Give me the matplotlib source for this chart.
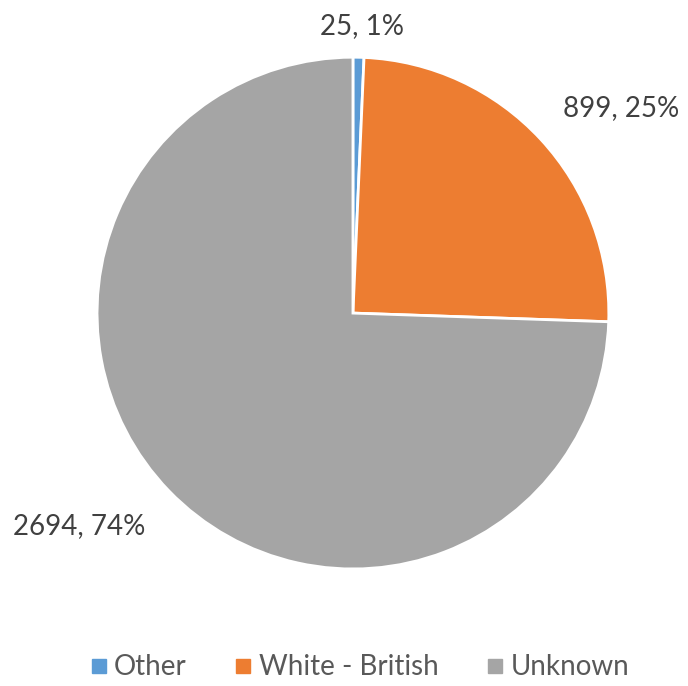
import numpy as np
import matplotlib
matplotlib.use("Agg")
import matplotlib.pyplot as plt
from matplotlib.lines import Line2D

# data
categories = ["Other", "White - British", "Unknown"]
counts = [25, 899, 2694]
percent_labels = ["1%", "25%", "74%"]
colors = ["#5B9BD5", "#ED7D31", "#A5A5A5"]

# where the data labels sit (axes data units, radius = 1)
label_pos = [(0.035, 1.12), (1.05, 0.80), (-1.07, -0.832)]

plt.rcParams['font.family'] = ['Lato', 'DejaVu Sans']
txt_color = "#595959"
lbl_color = "#404040"

fig = plt.figure(figsize=(6.88, 6.86), dpi=100)
ax = fig.add_axes([0.141, 0.1706, 0.744, 0.746])

wedges, _ = ax.pie(counts, colors=colors, startangle=90, counterclock=False,
                   radius=1.0, wedgeprops=dict(edgecolor="white", linewidth=2))
ax.set_xlim(-1, 1)
ax.set_ylim(-1, 1)
ax.set_aspect("equal")
ax.axis("off")

for (x, y), c, p in zip(label_pos, counts, percent_labels):
    ax.text(x, y, f"{c}, {p}", ha="center", va="center", fontsize=20,
            color=lbl_color, clip_on=False)

handles = [Line2D([0], [0], marker="s", linestyle="", markersize=10,
                  markerfacecolor=col, markeredgecolor=col) for col in colors]
fig.legend(handles, categories, loc="center", bbox_to_anchor=(0.52, 0.027),
           ncol=3, frameon=False, fontsize=20, labelcolor=txt_color,
           handletextpad=0.1, columnspacing=1.6, handlelength=0.9)

fig.savefig("out.png", dpi=100)
